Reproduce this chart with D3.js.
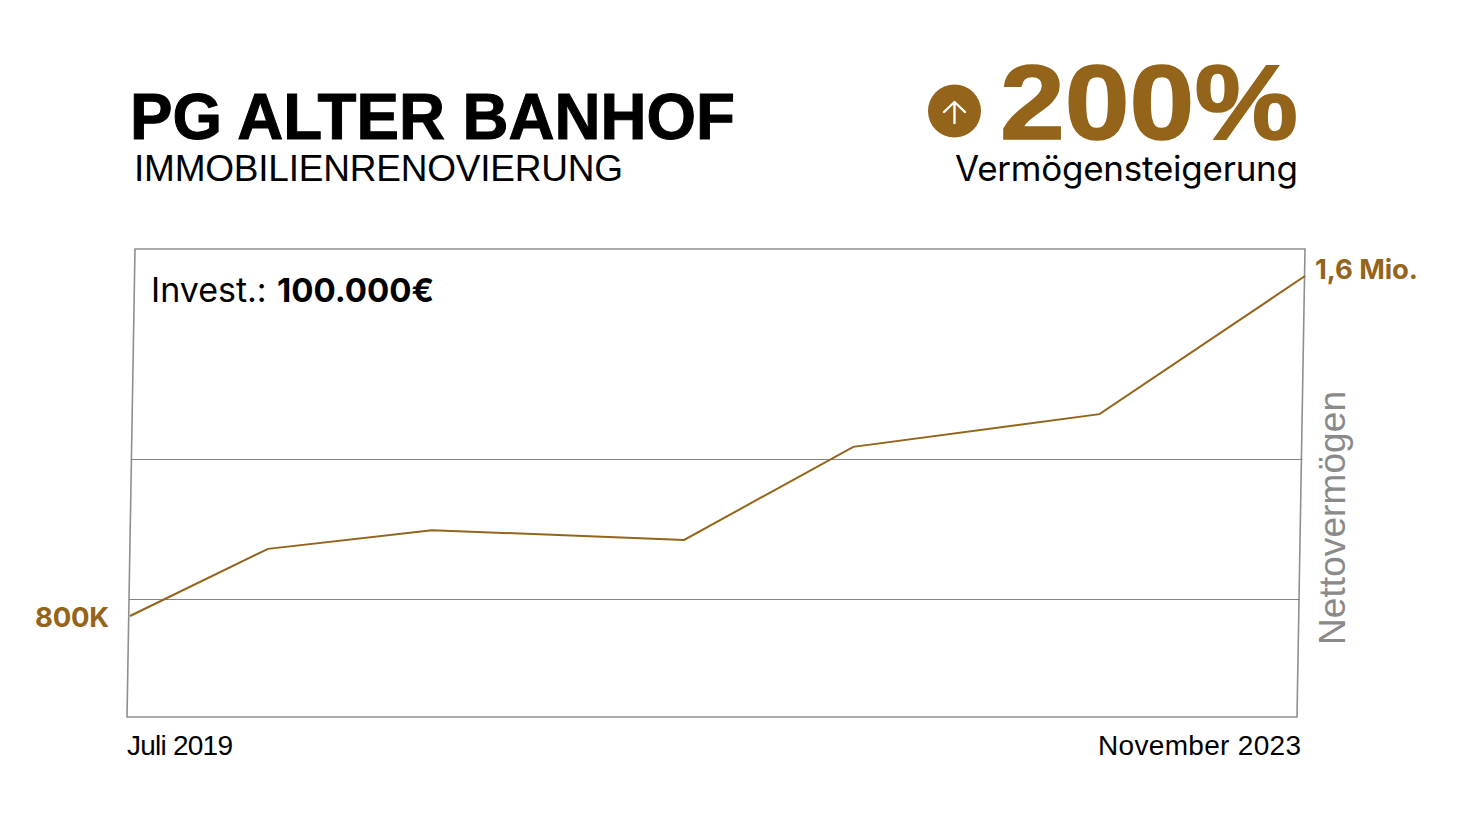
<!DOCTYPE html>
<html>
<head>
<meta charset="utf-8">
<script src="https://cdn.jsdelivr.net/npm/d3@7"></script>
<style>
  html, body { margin: 0; background: #fff; }
  text { font-family: Inter, sans-serif; }
</style>
</head>
<body>
<svg id="chart"></svg>
<script>
const dates = ['2019-07-01', '2020-01-03', '2020-08-11', '2021-07-17', '2022-03-02', '2023-01-28', '2023-11-01'];
const netWorth = [800, 958, 1002, 979, 1198, 1275, 1600]; // thousands
const gridValues = [838, 1167];
const dateLabels = ['Juli 2019', 'November 2023'];
const valueLabels = ['800K', '1,6 Mio.'];

function drawChart() {
  const width = 1471;
  const height = 829;
  const gold = '#936419';
  const frameGrey = '#8f8f8f';
  const helvetica = '"Liberation Sans", sans-serif';

  const svg = d3.select('#chart')
    .attr('width', width)
    .attr('height', height)
    .style('display', 'block');

  const x = d3.scaleTime()
    .domain([new Date(dates[0]), new Date(dates[dates.length - 1])])
    .range([130, 1305]);
  const y = d3.scaleLinear()
    .domain([800, 1600])
    .range([616, 276]);

  // the frame leans to the right, 8px over its height
  const frameTop = 249, frameBottom = 717, frameLeft = 127, frameRight = 1297, lean = 8;
  const leanAt = py => (frameBottom - py) / (frameBottom - frameTop) * lean;

  svg.append('path')
    .attr('d', d3.line()([
      [frameLeft + lean, frameTop], [frameRight + lean, frameTop], [frameRight, frameBottom], [frameLeft, frameBottom]
    ]) + 'Z')
    .attr('fill', 'none')
    .attr('stroke', frameGrey)
    .attr('stroke-width', 1.6);

  svg.append('g')
    .selectAll('line')
    .data(gridValues)
    .enter().append('line')
      .attr('x1', d => frameLeft + leanAt(y(d)))
      .attr('x2', d => frameRight + leanAt(y(d)) + 1)
      .attr('y1', d => Math.round(y(d)) - 0.5)
      .attr('y2', d => Math.round(y(d)) - 0.5)
      .attr('stroke', '#858585')
      .attr('stroke-width', 1);

  const line = d3.line()
    .x(d => x(new Date(d.date)))
    .y(d => y(d.value));

  svg.append('path')
    .datum(dates.map((date, i) => ({ date: date, value: netWorth[i] })))
    .attr('d', line)
    .attr('fill', 'none')
    .attr('stroke', gold)
    .attr('stroke-width', 2);

  function label(txt, px, py, size, weight, fill, anchor, fit) {
    const t = svg.append('text')
      .attr('x', px)
      .attr('y', py)
      .attr('font-size', size)
      .attr('font-weight', weight)
      .attr('fill', fill)
      .attr('text-anchor', anchor || 'start')
      .text(txt);
    if (fit) t.attr('textLength', fit);
    return t;
  }

  // Header, the two big texts get a thin stroke to reach the original weight
  label('PG ALTER BANHOF', 130, 139, 64, 700, '#000', 'start', 605)
    .style('font-family', helvetica)
    .attr('lengthAdjust', 'spacingAndGlyphs')
    .attr('stroke', '#000')
    .attr('stroke-width', 1);
  label('IMMOBILIENRENOVIERUNG', 134, 181, 37, 400, '#000', 'start', 489)
    .style('font-family', helvetica);
  label('200%', 1000, 139, 105, 700, gold, 'start', 298)
    .style('font-family', helvetica)
    .attr('lengthAdjust', 'spacingAndGlyphs')
    .attr('stroke', gold)
    .attr('stroke-width', 1.5);
  label('Vermögensteigerung', 1298, 181, 35, 400, '#000', 'end', 343);

  // Arrow badge
  svg.append('circle').attr('cx', 954.5).attr('cy', 111).attr('r', 26.5).attr('fill', gold);
  svg.append('path')
    .attr('d', 'M954.5,123V103M944,112L954.5,102L965,112')
    .attr('fill', 'none')
    .attr('stroke', '#fff')
    .attr('stroke-width', 2.4)
    .attr('stroke-linecap', 'round')
    .attr('stroke-linejoin', 'round');

  // Chart texts
  const invest = label('Invest.: ', 151, 302, 34, 400, '#000');
  invest.append('tspan').attr('x', 277).attr('font-weight', 700).attr('font-size', 33).text('100.000€');

  label(valueLabels[0], 35, 627, 27.5, 700, gold, 'start', 74);
  label(valueLabels[1], 1315, 279, 27.5, 700, gold, 'start', 103);
  label(dateLabels[0], 127, 755, 28, 400, '#000', 'start', 106).style('font-family', helvetica);
  label(dateLabels[1], 1301, 755, 28, 400, '#000', 'end', 203).style('font-family', helvetica);

  label('Nettovermögen', 0, 0, 37, 400, '#8a8a8a', 'start', 254)
    .style('font-family', helvetica)
    .attr('transform', 'translate(1345,645) rotate(-90)');
}

drawChart();
</script>
</body>
</html>
